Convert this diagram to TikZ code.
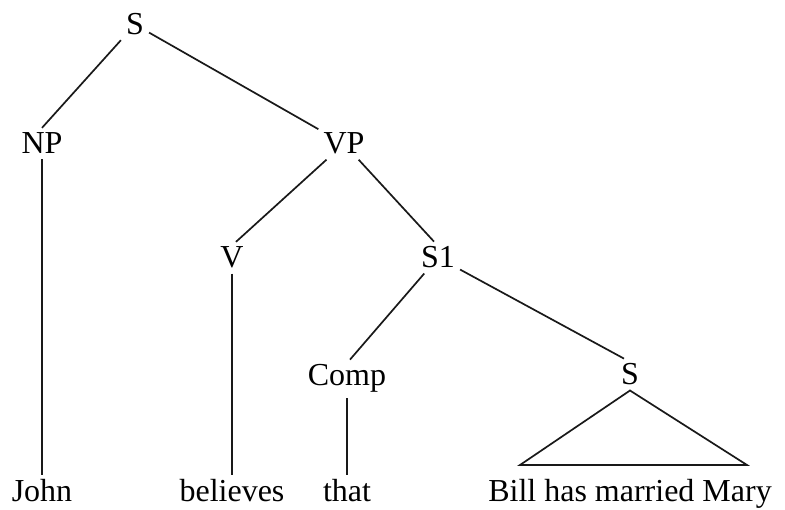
\documentclass[tikz,border=0pt]{standalone}
\usepackage{fontspec}
\setmainfont{Liberation Serif}
\begin{document}
\begin{tikzpicture}[x=1pt,y=-1pt,
  lab/.style={font=\fontsize{32}{36}\selectfont, inner sep=5pt, anchor=base},
  edge/.style={line width=1.7pt, black!90}]
\useasboundingbox (0,0) rectangle (785,510);
\node[lab] (S)    at (135,35)  {S};
\node[lab] (NP)   at (42,154)  {NP};
\node[lab] (VP)   at (344,154) {VP};
\node[lab] (V)    at (232,268) {V};
\node[lab] (S1)   at (438,268) {S1};
\node[lab] (Comp) at (347,386) {Comp};
\node[lab] (S2)   at (630,385) {S};
\node[lab] (John) at (42,502)  {John};
\node[lab] (bel)  at (232,502) {believes};
\node[lab] (that) at (347,502) {that};
\node[lab] (bhm)  at (630,502) {Bill has married Mary};
\coordinate (tl) at (520,465);
\coordinate (tr) at (747,465);
\draw[edge] (S) -- (NP.north);
\draw[edge] (S) -- (VP);
\draw[edge] (NP) -- (John);
\draw[edge] (VP) -- ([xshift=4pt]V.north);
\draw[edge] (VP) -- ([xshift=-4pt]S1.north);
\draw[edge] (V) -- (bel);
\draw[edge] (S1) -- ([xshift=3pt]Comp.north);
\draw[edge] (S1) -- ([xshift=-6pt]S2.north);
\draw[edge] (Comp) -- (that);
\draw[edge, line join=miter] (S2.south) -- (tl) -- (tr) -- cycle;
\end{tikzpicture}
\end{document}
